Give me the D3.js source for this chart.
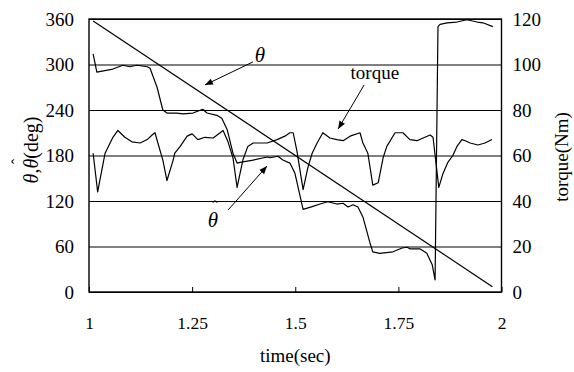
<!DOCTYPE html>
<html><head><meta charset="utf-8">
<script src="https://cdn.jsdelivr.net/npm/d3@7"></script>
<style>
html,body{margin:0;padding:0;background:#fff;}
</style></head><body>
<svg id="c" width="574" height="372"></svg>
<script>
// ---- data ----
const timeTicks = [1, 1.25, 1.5, 1.75, 2];
const degTicks = [0, 60, 120, 180, 240, 300, 360];
const torqueTicks = [0, 20, 40, 60, 80, 100, 120];

const thetaTime = [1.010, 1.978];
const thetaDeg = [357.5, 7];

const thetaHatTime = [1.010,1.019,1.058,1.082,1.099,1.116,1.141,1.148,1.165,1.179,1.189,1.213,1.228,1.252,1.276,1.286,1.310,1.322,1.335,1.349,1.359,1.366,1.398,1.432,1.439,1.458,1.470,1.487,1.499,1.519,1.543,1.560,1.579,1.601,1.616,1.628,1.640,1.652,1.664,1.681,1.688,1.705,1.737,1.759,1.771,1.778,1.802,1.819,1.832,1.839,1.846,1.851,1.868,1.892,1.916,1.941,1.955,1.979];
const thetaHatDeg = [314,290,294,299,297,299,297,295,270,240,236,236,235,236,241,236,233,229,214,183,170,171,174,178,177,179,174,170,157,109,113,116,119,116,117,112,115,112,99,65,53,51,53,58,59,57,57,51,36,16,350,353,355,356,359,356,355,350];

const torqueTime = [1.010,1.021,1.039,1.058,1.070,1.087,1.104,1.124,1.141,1.153,1.160,1.167,1.179,1.189,1.204,1.208,1.221,1.238,1.250,1.264,1.281,1.301,1.318,1.325,1.337,1.349,1.359,1.373,1.385,1.398,1.432,1.456,1.475,1.487,1.495,1.504,1.519,1.531,1.541,1.553,1.567,1.584,1.601,1.616,1.633,1.657,1.664,1.676,1.688,1.701,1.713,1.722,1.742,1.761,1.778,1.795,1.810,1.827,1.834,1.841,1.848,1.858,1.870,1.882,1.892,1.904,1.912,1.924,1.943,1.960,1.977];
const torqueNm = [61,44,61,68,71,68,66,65.5,67,69,70,65.5,58,49,58,61,64,68.5,69.5,67,68,67.7,70,71,66,59,46,58,64,65.5,65.5,67,68.5,70,70,62,45,55,61,65.5,70,67.7,67,66.5,68.5,70,65.5,61,47,48,59,64,70,70,67,66.5,67.7,69,68,57,46,52,57,60,64,67,66.5,65.5,64.6,65.5,67];

// annotations (label position and arrow in data units: time, deg)
const annText = ["θ", "torque", "θ"];
const annHat = [false, false, true];
const annItalic = [true, false, true];
const annLabelTime = [1.4145, 1.693, 1.3006];
const annLabelDeg = [303, 281, 85.7];
const annFromTime = [1.3976, 1.667, 1.337];
const annFromDeg = [303.4, 273, 108];
const annToTime = [1.281, 1.604, 1.4315];
const annToDeg = [273, 215, 166];

// ---- layout ----
const FONT = "Times New Roman";
const L = 89, R = 501.5, T = 19, B = 292;
const svg = d3.select("#c");
const x = d3.scaleLinear().domain([1, 2]).range([L, R]);
const yDeg = d3.scaleLinear().domain([0, 360]).range([B, T]);
const yNm = d3.scaleLinear().domain([0, 120]).range([B, T]);

svg.append("defs").append("marker")
  .attr("id", "ah").attr("viewBox", "0 0 10 10").attr("refX", 10).attr("refY", 5)
  .attr("markerWidth", 8).attr("markerHeight", 8).attr("markerUnits", "userSpaceOnUse")
  .attr("orient", "auto")
  .append("path").attr("d", "M0,1 L10,5 L0,9 Z").attr("fill", "#000");

function styleText(sel, size) {
  return sel.attr("font-size", size).attr("font-family", FONT).attr("fill", "#000");
}

// left axis with gridlines
const gl = svg.append("g").attr("transform", `translate(${L},0)`)
  .call(d3.axisLeft(yDeg).tickValues(degTicks).tickSizeInner(-(R - L)).tickSizeOuter(0).tickPadding(15).tickFormat(d => String(d)));
gl.attr("font-family", FONT);
gl.select(".domain").remove();
gl.selectAll(".tick line").attr("stroke", "#000").attr("stroke-width", 1);
styleText(gl.selectAll(".tick text"), 19);

// right axis
const gr = svg.append("g").attr("transform", `translate(${R},0)`)
  .call(d3.axisRight(yNm).tickValues(torqueTicks).tickSize(0).tickPadding(11).tickFormat(d => String(d)));
gr.attr("font-family", FONT);
gr.select(".domain").remove();
styleText(gr.selectAll(".tick text"), 19);

// bottom axis
const gb = svg.append("g").attr("transform", `translate(0,${B})`)
  .call(d3.axisBottom(x).tickValues(timeTicks).tickSizeInner(-5).tickSizeOuter(0).tickPadding(25).tickFormat(d => String(d)));
gb.attr("font-family", FONT);
gb.select(".domain").remove();
gb.selectAll(".tick line").attr("stroke", "#000").attr("stroke-width", 1);
styleText(gb.selectAll(".tick text"), 17.5);

// frame
svg.append("rect").attr("x", L).attr("y", T).attr("width", R - L).attr("height", B - T)
  .attr("fill", "none").attr("stroke", "#000").attr("stroke-width", 1.4);

// series
const lineDeg = (ts) => d3.line().x((d, i) => x(ts[i])).y(d => yDeg(d));
const lineNm = (ts) => d3.line().x((d, i) => x(ts[i])).y(d => yNm(d));
svg.append("path").attr("d", lineDeg(thetaTime)(thetaDeg)).attr("fill", "none").attr("stroke", "#000").attr("stroke-width", 1.2);
svg.append("path").attr("d", lineDeg(thetaHatTime)(thetaHatDeg)).attr("fill", "none").attr("stroke", "#000").attr("stroke-width", 1.2).attr("stroke-linejoin", "round");
svg.append("path").attr("d", lineNm(torqueTime)(torqueNm)).attr("fill", "none").attr("stroke", "#000").attr("stroke-width", 1.2).attr("stroke-linejoin", "round");

// annotations
annText.forEach((t, i) => {
  svg.append("line")
    .attr("x1", x(annFromTime[i])).attr("y1", yDeg(annFromDeg[i]))
    .attr("x2", x(annToTime[i])).attr("y2", yDeg(annToDeg[i]))
    .attr("stroke", "#000").attr("stroke-width", 1).attr("marker-end", "url(#ah)");
  const cx = x(annLabelTime[i]), cy = yDeg(annLabelDeg[i]);
  const tx = svg.append("text").attr("x", cx).attr("y", cy).attr("text-anchor", "middle");
  styleText(tx, annItalic[i] ? 21 : 19);
  tx.append("tspan").attr("font-style", annItalic[i] ? "italic" : "normal").text(t);
  if (annHat[i]) {
    tx.append("tspan").attr("x", cx + 2).attr("y", cy - 15).attr("font-size", 16).text("ˆ");
  }
});

// axis titles
styleText(svg.append("text").attr("x", (L + R) / 2).attr("y", 362).attr("text-anchor", "middle")
  .text("time(sec)"), 19);

const gt = svg.append("g").attr("transform", "translate(38,150) rotate(-90)");
const yt = gt.append("text").attr("x", 0).attr("y", 0).attr("text-anchor", "middle");
styleText(yt, 20);
yt.append("tspan").attr("font-style", "italic").text("θ");
yt.append("tspan").text(",");
yt.append("tspan").attr("font-style", "italic").text("θ");
yt.append("tspan").text("(deg)");
const s = yt.node().getStartPositionOfChar(2).x, e = yt.node().getEndPositionOfChar(2).x;
yt.append("tspan").attr("x", (s + e) / 2 + 2).attr("y", -15).attr("font-size", 16).text("ˆ");

styleText(svg.append("text").attr("transform", "translate(568,157) rotate(-90)").attr("text-anchor", "middle")
  .text("torque(Nm)"), 19);
</script>
</body></html>
